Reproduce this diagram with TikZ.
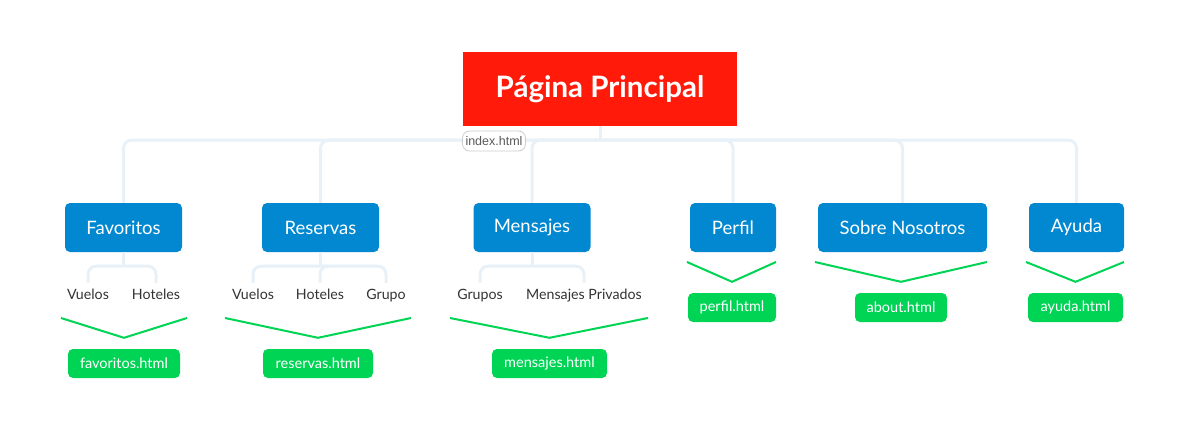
\documentclass[tikz,border=0pt]{standalone}
\usepackage{fontspec}
\setmainfont{Lato}
\newfontfamily\arialfont{Liberation Sans}
\definecolor{mainred}{HTML}{FF1A0A}
\definecolor{topicblue}{HTML}{0288D1}
\definecolor{pagegreen}{HTML}{00D455}
\definecolor{linkblue}{HTML}{E8F1F8}
\definecolor{leafgray}{HTML}{333333}
\begin{document}
\begin{tikzpicture}[x=1pt, y=-1pt,
  topic/.style={fill=topicblue, text=white, rounded corners=5pt, minimum height=49pt, font=\fontsize{18.5}{22}\selectfont},
  leaf/.style={text=leafgray, inner sep=0pt, minimum height=26pt, text height=10pt, text depth=0pt, font=\fontsize{14.2}{17}\selectfont},
  page/.style={fill=pagegreen, text=white, rounded corners=5pt, minimum height=29pt, font=\fontsize{14.5}{17}\selectfont},
  tree/.style={draw=linkblue, line width=3pt, rounded corners=8pt},
  brace/.style={draw=pagegreen, line width=2pt}]
  \useasboundingbox (0,0) rectangle (1184,439);
  % main page
  \node[fill=mainred, text=white, minimum width=274pt, minimum height=74pt, font=\fontsize{29.5}{34}\selectfont\bfseries] (main) at (600,89) {Página Principal};
  % sections
  \node[topic, minimum width=117pt] (fav) at (123.5,227.5) {Favoritos};
  \node[topic, minimum width=117pt] (res) at (320.5,227.5) {Reservas};
  \node[topic, minimum width=117pt] (men) at (532,227.5) {Mensajes};
  \node[topic, minimum width=86pt] (per) at (733,227.5) {Perfil};
  \node[topic, minimum width=169pt] (sob) at (902.5,227.5) {Sobre Nosotros};
  \node[topic, minimum width=95pt] (ayu) at (1076.5,227.5) {Ayuda};
  \draw[tree] (main.south) -- ++(0,14) coordinate (trunk);
  \foreach \t in {fav,res,men,per,sob,ayu}
    \draw[tree] (trunk) -| (\t.north);
  \node[draw=black!20, line width=0.8pt, fill=white, rounded corners=7pt, text=black!65, inner sep=3pt, minimum height=20pt, font=\arialfont\fontsize{12.5}{14}\selectfont] (idx) at (494,141) {index.html};
  % sub items
  \node[leaf] (favVue) at (88,294) {Vuelos};
  \node[leaf] (favHot) at (156,294) {Hoteles};
  \node[leaf] (resVue) at (253,294) {Vuelos};
  \node[leaf] (resHot) at (320,294) {Hoteles};
  \node[leaf] (resGru) at (386,294) {Grupo};
  \node[leaf] (menGru) at (480,294) {Grupos};
  \node[leaf] (menPri) at (584,294) {Mensajes Privados};
  \foreach \a/\b in {fav/favVue,fav/favHot,res/resVue,res/resHot,res/resGru,men/menGru,men/menPri}
    \draw[tree] ([yshift=-14pt]\a.south) -| ([yshift=-2pt]\b.north);
  \foreach \a in {fav,res,men}
    \draw[tree] (\a.south) -- ++(0,14);
  % html pages
  \node[page, minimum width=112pt] (favHtml) at (124,363.5) {favoritos.html};
  \node[page, minimum width=110pt] (resHtml) at (318,363.5) {reservas.html};
  \node[page, minimum width=115pt] (menHtml) at (549.5,363.5) {mensajes.html};
  \node[page, minimum width=88pt] (perHtml) at (732,307.5) {perfil.html};
  \node[page, minimum width=92pt] (sobHtml) at (901,307.5) {about.html};
  \node[page, minimum width=95pt] (ayuHtml) at (1075.5,307.5) {ayuda.html};
  % summary braces
  \coordinate (favL) at (61,318); \coordinate (favR) at (187,318);
  \coordinate (resL) at (225,318); \coordinate (resR) at (411,318);
  \coordinate (menL) at (450,318); \coordinate (menR) at (648,318);
  \coordinate (perL) at (687,262); \coordinate (perR) at (776,262);
  \coordinate (sobL) at (815,262); \coordinate (sobR) at (987,262);
  \coordinate (ayuL) at (1026,262); \coordinate (ayuR) at (1124,262);
  \foreach \t in {fav,res,men,per,sob,ayu}
    \draw[brace] (\t L) -- ([yshift=11pt]\t Html.north) -- (\t R);
\end{tikzpicture}
\end{document}
